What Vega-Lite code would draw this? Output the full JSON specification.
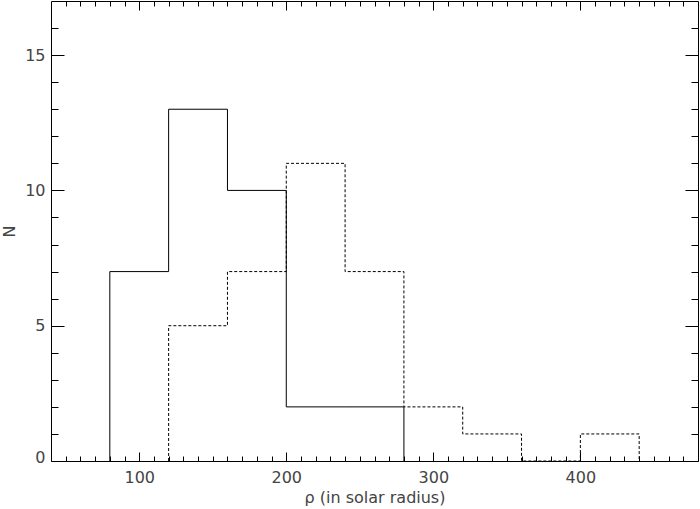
{
  "$schema": "https://vega.github.io/schema/vega-lite/v6.json",
  "width": 647,
  "height": 460,
  "autosize": "none",
  "padding": {"left": 51, "top": 1, "right": 2, "bottom": 48},
  "background": "white",
  "config": {
    "view": {"stroke": null},
    "axis": {
      "domainColor": "#000",
      "domainWidth": 1,
      "tickColor": "#000",
      "tickWidth": 1,
      "grid": false,
      "labelFont": "DejaVu Sans",
      "labelFontSize": 16,
      "labelColor": "#444",
      "titleFont": "DejaVu Sans",
      "titleFontSize": 16,
      "titleColor": "#444",
      "titleFontWeight": "normal",
      "labelOverlap": false,
      "labelFlush": false
    }
  },
  "data": {
    "values": [
      {"series": "A", "i": 0, "rho": 80, "n": 0},
      {"series": "A", "i": 1, "rho": 80, "n": 7},
      {"series": "A", "i": 2, "rho": 120, "n": 13},
      {"series": "A", "i": 3, "rho": 160, "n": 10},
      {"series": "A", "i": 4, "rho": 200, "n": 2},
      {"series": "A", "i": 5, "rho": 240, "n": 2},
      {"series": "A", "i": 6, "rho": 280, "n": 0},
      {"series": "B", "i": 0, "rho": 120, "n": 0},
      {"series": "B", "i": 1, "rho": 120, "n": 5},
      {"series": "B", "i": 2, "rho": 160, "n": 7},
      {"series": "B", "i": 3, "rho": 200, "n": 11},
      {"series": "B", "i": 4, "rho": 240, "n": 7},
      {"series": "B", "i": 5, "rho": 280, "n": 2},
      {"series": "B", "i": 6, "rho": 320, "n": 1},
      {"series": "B", "i": 7, "rho": 360, "n": 0},
      {"series": "B", "i": 8, "rho": 400, "n": 1},
      {"series": "B", "i": 9, "rho": 440, "n": 0}
    ]
  },
  "layer": [
    {
      "transform": [{"filter": "datum.series === 'A'"}],
      "mark": {"type": "line", "interpolate": "step-after", "color": "#000", "strokeWidth": 1},
      "encoding": {
        "x": {
          "field": "rho", "type": "quantitative",
          "scale": {"domain": [40, 480], "nice": false, "zero": false},
          "axis": {
            "orient": "bottom",
            "values": [50,60,70,80,90,100,110,120,130,140,150,160,170,180,190,200,210,220,230,240,250,260,270,280,290,300,310,320,330,340,350,360,370,380,390,400,410,420,430,440,450,460,470],
            "tickSize": {"condition": {"test": "datum.value % 100 === 0", "value": -9}, "value": -5},
            "labelExpr": "datum.value % 100 === 0 ? datum.label : ''",
            "labelPadding": 17,
            "title": "ρ (in solar radius)",
            "titleY": 36,
            "titleBaseline": "middle"
          }
        },
        "y": {
          "field": "n", "type": "quantitative",
          "scale": {"domain": [0, 17], "nice": false, "zero": false},
          "axis": {
            "orient": "left",
            "values": [0,1,2,3,4,5,6,7,8,9,10,11,12,13,14,15,16],
            "tickSize": {"condition": {"test": "datum.value % 5 === 0", "value": -13}, "value": -7},
            "labelExpr": "datum.value % 5 === 0 ? datum.label : ''",
            "labelOffset": {"condition": {"test": "datum.value === 0", "value": -4}, "value": 0},
            "labelPadding": 19,
            "title": "N",
            "titleX": -42,
            "titleY": 230,
            "titleAlign": "center",
            "titleBaseline": "middle"
          }
        },
        "order": {"field": "i", "type": "quantitative"}
      }
    },
    {
      "transform": [{"filter": "datum.series === 'B'"}],
      "mark": {"type": "line", "interpolate": "step-after", "color": "#000", "strokeWidth": 1, "strokeDash": [3, 2]},
      "encoding": {
        "x": {
          "field": "rho", "type": "quantitative",
          "scale": {"domain": [40, 480], "nice": false, "zero": false},
          "axis": {
            "orient": "top",
            "values": [50,60,70,80,90,100,110,120,130,140,150,160,170,180,190,200,210,220,230,240,250,260,270,280,290,300,310,320,330,340,350,360,370,380,390,400,410,420,430,440,450,460,470],
            "tickSize": {"condition": {"test": "datum.value % 100 === 0", "value": -9}, "value": -5},
            "labels": false,
            "title": null
          }
        },
        "y": {
          "field": "n", "type": "quantitative",
          "scale": {"domain": [0, 17], "nice": false, "zero": false},
          "axis": {
            "orient": "right",
            "values": [0,1,2,3,4,5,6,7,8,9,10,11,12,13,14,15,16],
            "tickSize": {"condition": {"test": "datum.value % 5 === 0", "value": -13}, "value": -7},
            "labels": false,
            "title": null
          }
        },
        "order": {"field": "i", "type": "quantitative"}
      }
    }
  ],
  "resolve": {"axis": {"x": "independent", "y": "independent"}}
}
